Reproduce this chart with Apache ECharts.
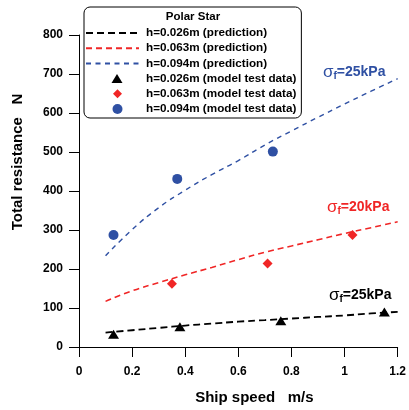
<!DOCTYPE html>
<html>
<head>
<meta charset="utf-8">
<script src="https://cdn.jsdelivr.net/npm/echarts@6/dist/echarts.min.js"></script>
<style>
  html, body { margin: 0; padding: 0; background: #fff; }
  #chart { width: 409px; height: 410px; }
</style>
</head>
<body>
<div id="chart"></div>
<script>
// Predicted total resistance (N) versus ship speed (m/s) for three ice thicknesses
const predSpeed = [0.1, 0.2, 0.3, 0.4, 0.5, 0.6, 0.7, 0.8, 0.9, 1.0, 1.1, 1.2];
const predH026 = [37, 43, 49, 55, 60, 65, 69, 73, 77, 81, 86, 90];
const predH063 = [117, 144, 165, 185, 204, 224, 243, 259, 275, 291, 306, 321];
const predH094 = [234, 301, 357, 402, 442, 478, 518, 554, 589, 623, 656, 688];

// Model test measurements
const testH026Speed = [0.13, 0.38, 0.76, 1.15];
const testH026 = [33, 52, 67, 90];
const testH063Speed = [0.35, 0.71, 1.03];
const testH063 = [162, 214, 287];
const testH094Speed = [0.13, 0.37, 0.73];
const testH094 = [287, 431, 501];

const xTicks = [0, 0.2, 0.4, 0.6, 0.8, 1, 1.2];
const yTicks = [0, 100, 200, 300, 400, 500, 600, 700, 800];

const seriesNames = [
  'h=0.026m (prediction)',
  'h=0.063m (prediction)',
  'h=0.094m (prediction)',
  'h=0.026m (model test data)',
  'h=0.063m (model test data)',
  'h=0.094m (model test data)'
];

const BLACK = '#000000';
const RED = '#f02626';
const BLUE = '#2f50a3';
const FONT = '"Liberation Sans", Arial, sans-serif';

const pairs = (xs, ys) => xs.map((x, i) => [x, ys[i]]);

const chart = echarts.init(document.getElementById('chart'), null, { renderer: 'canvas' });

const axisCommon = {
  axisLine: { show: true, onZero: false, lineStyle: { color: '#000', width: 1 } },
  axisTick: { show: true, inside: false, length: 10, lineStyle: { color: '#000', width: 1 } },
  splitLine: { show: false },
  nameTextStyle: { fontFamily: FONT, fontWeight: 'bold', fontSize: 15, color: '#000' }
};

function predLine(name, data, color, width, dash) {
  return {
    name, type: 'line', data: pairs(predSpeed, data),
    symbol: 'none', smooth: true,
    lineStyle: { color, width, type: dash, opacity: 1 },
    itemStyle: { color },
    z: 2
  };
}

function testPoints(name, xs, ys, color, symbol, size) {
  return {
    name, type: 'scatter', data: pairs(xs, ys),
    symbol, symbolSize: size, symbolKeepAspect: true,
    itemStyle: { color, opacity: 1 },
    z: 3
  };
}

function sigmaLabel(text, x, y, color) {
  return {
    type: 'text', x, y,
    style: {
      text: '{s|σ}{f|f}{v|' + text + '}',
      verticalAlign: 'middle',
      fill: color,
      rich: {
        s: { fontFamily: FONT, fontSize: 17, fontWeight: 'normal', fill: color, verticalAlign: 'middle' },
        f: { fontFamily: FONT, fontSize: 10, fontWeight: 'bold', fill: color, verticalAlign: 'bottom', padding: [8, 0, 0, 0] },
        v: { fontFamily: FONT, fontSize: 14, fontWeight: 'bold', fill: color, verticalAlign: 'middle' }
      }
    }
  };
}

// Legend marker icons: a 20x11 box (first two moves) with the marker drawn in its right half
const ICON_TRIANGLE = 'path://M0,0 M20,11 M14.5,1 L20,10 L9,10 Z';
const ICON_DIAMOND = 'path://M0,0 M20,11 M15,1 L19.5,5.5 L15,10 L10.5,5.5 Z';
const ICON_CIRCLE = 'path://M0,0 M20,11 M10,5.5 A5,5 0 1,1 20,5.5 A5,5 0 1,1 10,5.5 Z';

// Legend entries: prediction lines show only the dashed stroke, test data show the marker
const legendData = [
  { name: seriesNames[0], itemStyle: { color: 'rgba(0,0,0,0)', borderWidth: 0, opacity: 0 } },
  { name: seriesNames[1], itemStyle: { color: 'rgba(0,0,0,0)', borderWidth: 0, opacity: 0 } },
  { name: seriesNames[2], itemStyle: { color: 'rgba(0,0,0,0)', borderWidth: 0, opacity: 0 } },
  { name: seriesNames[3], icon: ICON_TRIANGLE, itemStyle: { opacity: 1 } },
  { name: seriesNames[4], icon: ICON_DIAMOND, itemStyle: { opacity: 1 } },
  { name: seriesNames[5], icon: ICON_CIRCLE, itemStyle: { opacity: 1 } }
];

chart.setOption({
  animation: false,
  backgroundColor: '#fff',
  grid: { left: 79, right: 11, top: 35, bottom: 63, containLabel: false },
  xAxis: Object.assign({}, axisCommon, {
    type: 'value', min: 0, max: 1.2, interval: 0.2,
    name: 'Ship speed   m/s', nameLocation: 'middle', nameGap: 43,
    nameTextStyle: Object.assign({}, axisCommon.nameTextStyle, { padding: [0, 0, 0, 32] }),
    axisLabel: {
      margin: 19, fontFamily: FONT, fontWeight: 'bold', fontSize: 12, color: '#000',
      formatter: v => (xTicks.includes(+v.toFixed(1)) ? String(+v.toFixed(1)) : '')
    }
  }),
  yAxis: Object.assign({}, axisCommon, {
    type: 'value', min: 0, max: 800, interval: 100,
    name: 'Total resistance   N', nameLocation: 'middle', nameGap: 54,
    nameTextStyle: Object.assign({}, axisCommon.nameTextStyle, { padding: [0, 0, 0, 58] }),
    axisLabel: {
      margin: 16, fontFamily: FONT, fontWeight: 'bold', fontSize: 12, color: '#000',
      formatter: v => (yTicks.includes(v) ? String(v) : '')
    }
  }),
  legend: {
    orient: 'vertical', left: 84, top: 7,
    padding: [20, 5, 3, 1],
    borderColor: '#000', borderWidth: 1, borderRadius: 6,
    itemWidth: 53, itemHeight: 11, itemGap: 3.2,
    symbolKeepAspect: true,
    textStyle: { fontFamily: FONT, fontWeight: 'bold', fontSize: 11.7, color: '#000', padding: [0, 0, 0, 2] },
    data: legendData
  },
  graphic: [
    {
      type: 'text', x: 193, y: 17,
      style: { text: 'Polar Star', fontFamily: FONT, fontWeight: 'bold', fontSize: 11.5, fill: '#000', align: 'center', verticalAlign: 'middle' }
    },
    sigmaLabel('=25kPa', 323, 72, BLUE),
    sigmaLabel('=20kPa', 327, 207, RED),
    sigmaLabel('=25kPa', 329, 295, BLACK)
  ],
  series: [
    predLine(seriesNames[0], predH026, BLACK, 1.8, [7, 4]),
    predLine(seriesNames[1], predH063, RED, 1.6, [6, 4]),
    predLine(seriesNames[2], predH094, BLUE, 1.4, [5, 4.5]),
    testPoints(seriesNames[3], testH026Speed, testH026, BLACK, 'triangle', [11, 9]),
    testPoints(seriesNames[4], testH063Speed, testH063, RED, 'diamond', 10),
    testPoints(seriesNames[5], testH094Speed, testH094, BLUE, 'circle', 10)
  ]
});
</script>
</body>
</html>
